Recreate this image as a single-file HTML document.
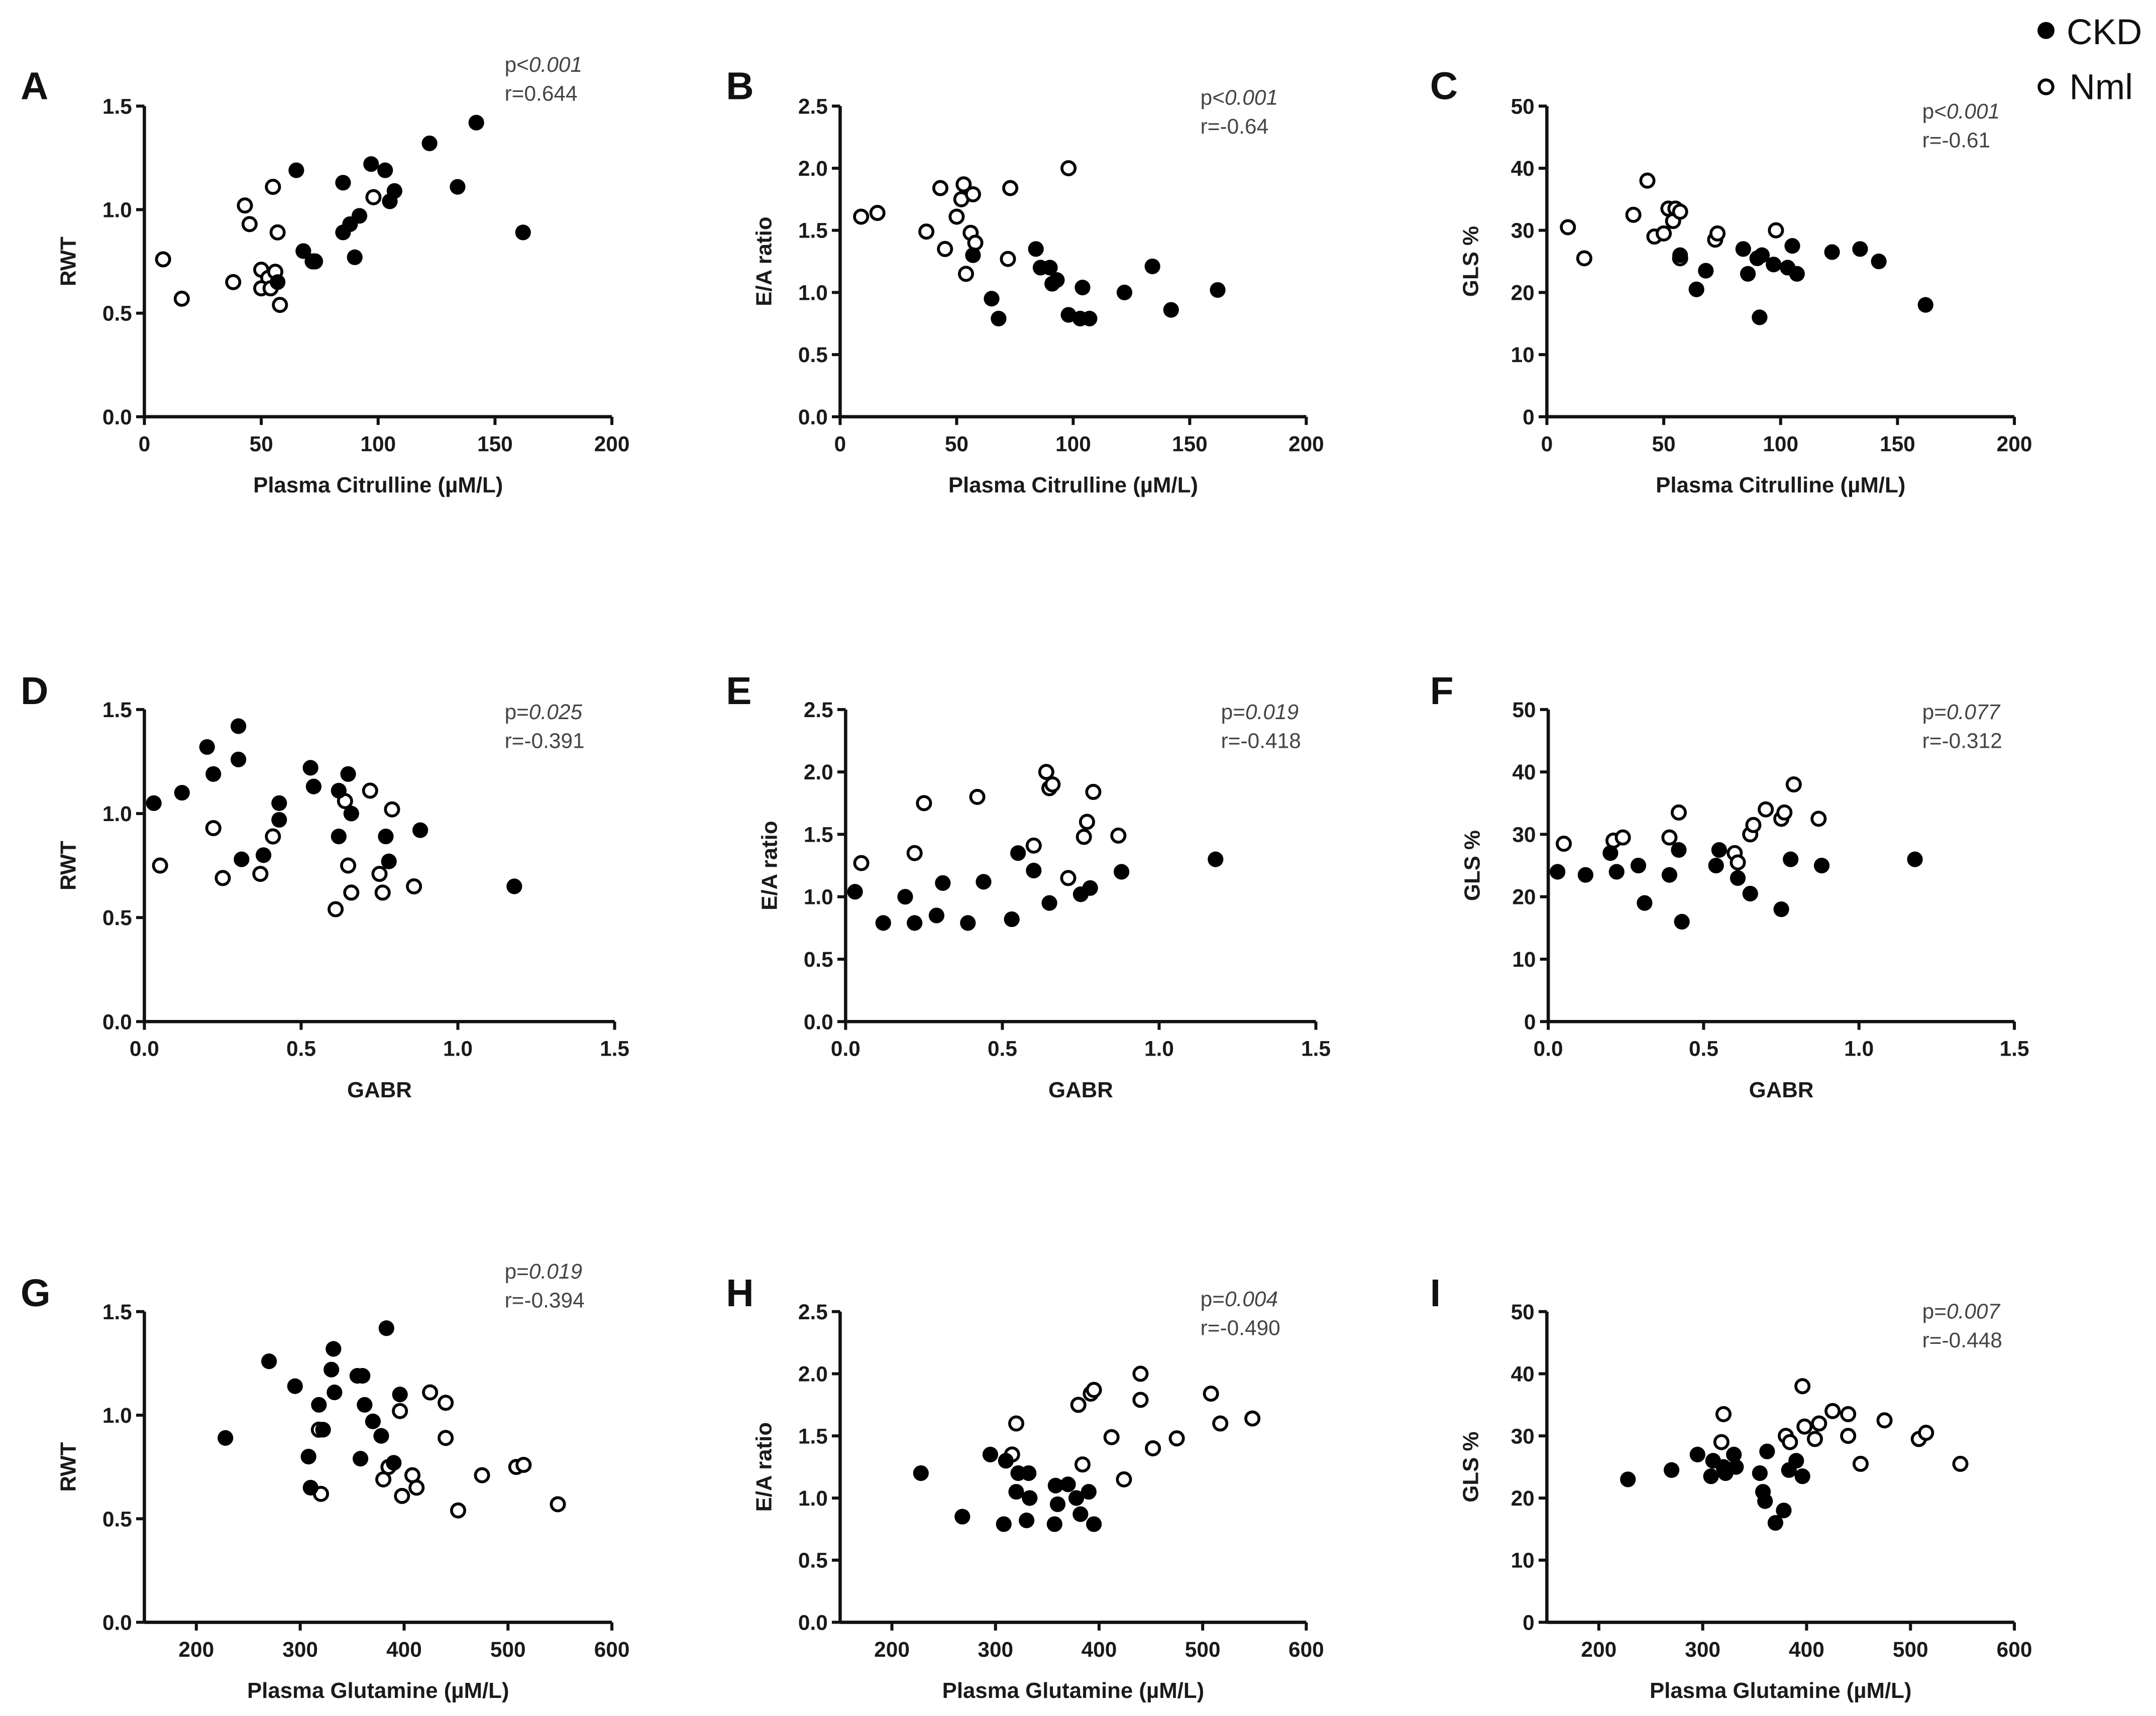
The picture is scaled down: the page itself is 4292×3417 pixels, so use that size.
<!DOCTYPE html>
<html><head><meta charset="utf-8"><style>
html,body{margin:0;padding:0;background:#fff;}
svg{display:block;}
text{font-family:"Liberation Sans",sans-serif;}
.tick{font-family:"Liberation Sans Narrow","Liberation Sans",sans-serif;font-weight:bold;font-size:15.5px;fill:#1a1a1a;}
.lab{font-weight:bold;font-size:16px;fill:#1a1a1a;}
.stat{font-size:15.5px;fill:#444;}
.letter{font-weight:bold;font-size:28px;fill:#111;}
</style></head><body>
<svg id="fig" width="4292" height="3417" viewBox="0 0 1568 1248" xmlns="http://www.w3.org/2000/svg">
<g>
<circle cx="1488" cy="22" r="6.2" fill="#000"/>
<text x="1503" y="32" font-size="26" fill="#111">CKD</text>
<circle cx="1488" cy="63" r="5" fill="none" stroke="#000" stroke-width="2.2"/>
<text x="1505" y="72" font-size="26" fill="#111">Nml</text>
</g>
</svg>
<script>
// Panel A
const aCkdX=[65,85,97,103,107,105,122,134,142,162,85,88,92,90,68,72,57];
const aCkdY=[1.19,1.13,1.22,1.19,1.09,1.04,1.32,1.11,1.42,0.89,0.89,0.93,0.97,0.77,0.80,0.75,0.65];
const aNmlX=[8,16,38,43,45,55,57,50,53,56,50,54,58,73,98,72];
const aNmlY=[0.76,0.57,0.65,1.02,0.93,1.11,0.89,0.71,0.67,0.70,0.62,0.62,0.54,0.75,1.06,0.75];
// Panel B
const bCkdX=[57,84,86,90,93,91,65,68,98,104,103,107,122,134,142,162];
const bCkdY=[1.30,1.35,1.2,1.2,1.1,1.07,0.95,0.79,0.82,1.04,0.79,0.79,1.0,1.21,0.86,1.02];
const bNmlX=[9,16,37,43,45,52,53,50,57,56,58,54,73,72,98];
const bNmlY=[1.61,1.64,1.49,1.84,1.35,1.75,1.87,1.61,1.79,1.48,1.40,1.15,1.84,1.27,2.0];
// Panel C
const cCkdX=[57,64,68,84,86,90,92,91,97,103,105,107,122,134,142,162];
const cCkdY=[26,20.5,23.5,27,23,25.5,26,16,24.5,24,27.5,23,26.5,27,25,18];
const cNmlX=[9,16,37,43,46,50,52,54,55,57,57,72,73,98];
const cNmlY=[30.5,25.5,32.5,38,29,29.5,33.5,31.5,33.5,33,25.5,28.5,29.5,30];
// Panel D
const dCkdX=[0.03,0.12,0.2,0.22,0.3,0.3,0.31,0.38,0.43,0.43,0.53,0.54,0.62,0.62,0.65,0.66,0.77,0.78,0.88,1.18];
const dCkdY=[1.05,1.10,1.32,1.19,1.42,1.26,0.78,0.80,1.05,0.97,1.22,1.13,1.11,0.89,1.19,1.00,0.89,0.77,0.92,0.65];
const dNmlX=[0.05,0.22,0.25,0.37,0.41,0.61,0.64,0.65,0.66,0.72,0.75,0.76,0.79,0.86];
const dNmlY=[0.75,0.93,0.69,0.71,0.89,0.54,1.06,0.75,0.62,1.11,0.71,0.62,1.02,0.65];
// Panel E
const eCkdX=[0.03,0.12,0.19,0.22,0.29,0.31,0.39,0.44,0.53,0.55,0.6,0.65,0.75,0.78,0.88,1.18];
const eCkdY=[1.04,0.79,1.0,0.79,0.85,1.11,0.79,1.12,0.82,1.35,1.21,0.95,1.02,1.07,1.2,1.3];
const eNmlX=[0.05,0.22,0.25,0.42,0.6,0.64,0.65,0.66,0.71,0.76,0.77,0.79,0.87];
const eNmlY=[1.27,1.35,1.75,1.8,1.41,2.0,1.87,1.9,1.15,1.48,1.6,1.84,1.49];
// Panel F
const fCkdX=[0.03,0.12,0.2,0.22,0.29,0.31,0.39,0.42,0.43,0.54,0.55,0.61,0.65,0.75,0.78,0.88,1.18];
const fCkdY=[24,23.5,27,24,25,19,23.5,27.5,16,25,27.5,23,20.5,18,26,25,26];
const fNmlX=[0.05,0.21,0.24,0.39,0.42,0.6,0.61,0.65,0.66,0.7,0.75,0.76,0.79,0.87];
const fNmlY=[28.5,29,29.5,29.5,33.5,27,25.5,30,31.5,34,32.5,33.5,38,32.5];
// Panel G
const gCkdX=[228,270,295,308,310,318,322,330,332,333,355,358,360,362,370,378,383,390,396];
const gCkdY=[0.89,1.26,1.14,0.80,0.65,1.05,0.93,1.22,1.32,1.11,1.19,0.79,1.19,1.05,0.97,0.90,1.42,0.77,1.10];
const gNmlX=[318,320,380,385,396,398,408,412,425,440,440,452,475,508,515,548];
const gNmlY=[0.93,0.62,0.69,0.75,1.02,0.61,0.71,0.65,1.11,1.06,0.89,0.54,0.71,0.75,0.76,0.57];
// Panel H
const hCkdX=[228,268,295,308,310,320,322,330,333,332,357,358,360,370,378,382,390,395];
const hCkdY=[1.2,0.85,1.35,0.79,1.3,1.05,1.2,0.82,1.0,1.2,0.79,1.1,0.95,1.11,1.0,0.87,1.05,0.79];
const hNmlX=[316,320,380,384,392,395,412,424,440,440,452,475,508,517,548];
const hNmlY=[1.35,1.6,1.75,1.27,1.84,1.87,1.49,1.15,2.0,1.79,1.40,1.48,1.84,1.60,1.64];
// Panel I
const iCkdX=[228,270,295,308,310,320,322,330,332,355,358,360,362,370,378,383,390,396];
const iCkdY=[23,24.5,27,23.5,26,25,24,27,25,24,21,19.5,27.5,16,18,24.5,26,23.5];
const iNmlX=[318,320,380,384,396,398,408,412,425,440,440,452,475,508,515,548];
const iNmlY=[29,33.5,30,29,38,31.5,29.5,32,34,33.5,30,25.5,32.5,29.5,30.5,25.5];

const ticksCit=[0,50,100,150,200];
const ticksGabr=[0,0.5,1.0,1.5];
const ticksGlu=[200,300,400,500,600];
const ticksRwt=[0,0.5,1.0,1.5];
const ticksEa=[0,0.5,1.0,1.5,2.0,2.5];
const ticksGls=[0,10,20,30,40,50];
const labRwt=["0.0","0.5","1.0","1.5"];
const labEa=["0.0","0.5","1.0","1.5","2.0","2.5"];
const labGabr=["0.0","0.5","1.0","1.5"];
const pVals=["<","<","<","=","=","=","=","=","="];
const pNums=["0.001","0.001","0.001","0.025","0.019","0.077","0.019","0.004","0.007"];
const rVals=["r=0.644","r=-0.64","r=-0.61","r=-0.391","r=-0.418","r=-0.312","r=-0.394","r=-0.490","r=-0.448"];

const NS="http://www.w3.org/2000/svg";
const svg=document.getElementById('fig');
function mk(tag,attrs,parent){const e=document.createElementNS(NS,tag);for(const k in attrs)e.setAttribute(k,attrs[k]);(parent||svg).appendChild(e);return e;}

const panels=[
 {id:'a',L:'A',x0:105,x1:445,yb:303,yt:77,xmin:0,xmax:200,xt:ticksCit,xl:ticksCit.map(String),ymax:1.5,yt2:ticksRwt,yl:labRwt,ylab:'RWT',xlab:'Plasma Citrulline (µM/L)',ck:[aCkdX,aCkdY],nm:[aNmlX,aNmlY],lx:15,ly:72,sx:367,sy:52},
 {id:'b',L:'B',x0:611,x1:950,yb:303,yt:77,xmin:0,xmax:200,xt:ticksCit,xl:ticksCit.map(String),ymax:2.5,yt2:ticksEa,yl:labEa,ylab:'E/A ratio',xlab:'Plasma Citrulline (µM/L)',ck:[bCkdX,bCkdY],nm:[bNmlX,bNmlY],lx:528,ly:72,sx:873,sy:76},
 {id:'c',L:'C',x0:1125,x1:1465,yb:303,yt:77,xmin:0,xmax:200,xt:ticksCit,xl:ticksCit.map(String),ymax:50,yt2:ticksGls,yl:ticksGls.map(String),ylab:'GLS %',xlab:'Plasma Citrulline (µM/L)',ck:[cCkdX,cCkdY],nm:[cNmlX,cNmlY],lx:1040,ly:72,sx:1398,sy:86},
 {id:'d',L:'D',x0:105,x1:447,yb:743,yt:516,xmin:0,xmax:1.5,xt:ticksGabr,xl:labGabr,ymax:1.5,yt2:ticksRwt,yl:labRwt,ylab:'RWT',xlab:'GABR',ck:[dCkdX,dCkdY],nm:[dNmlX,dNmlY],lx:15,ly:512,sx:367,sy:523},
 {id:'e',L:'E',x0:615,x1:957,yb:743,yt:516,xmin:0,xmax:1.5,xt:ticksGabr,xl:labGabr,ymax:2.5,yt2:ticksEa,yl:labEa,ylab:'E/A ratio',xlab:'GABR',ck:[eCkdX,eCkdY],nm:[eNmlX,eNmlY],lx:528,ly:512,sx:888,sy:523},
 {id:'f',L:'F',x0:1126,x1:1465,yb:743,yt:516,xmin:0,xmax:1.5,xt:ticksGabr,xl:labGabr,ymax:50,yt2:ticksGls,yl:ticksGls.map(String),ylab:'GLS %',xlab:'GABR',ck:[fCkdX,fCkdY],nm:[fNmlX,fNmlY],lx:1040,ly:512,sx:1398,sy:523},
 {id:'g',L:'G',x0:105,x1:445,yb:1180,yt:954,xmin:150,xmax:600,xt:ticksGlu,xl:ticksGlu.map(String),ymax:1.5,yt2:ticksRwt,yl:labRwt,ylab:'RWT',xlab:'Plasma Glutamine (µM/L)',ck:[gCkdX,gCkdY],nm:[gNmlX,gNmlY],lx:15,ly:950,sx:367,sy:930},
 {id:'h',L:'H',x0:611,x1:950,yb:1180,yt:954,xmin:150,xmax:600,xt:ticksGlu,xl:ticksGlu.map(String),ymax:2.5,yt2:ticksEa,yl:labEa,ylab:'E/A ratio',xlab:'Plasma Glutamine (µM/L)',ck:[hCkdX,hCkdY],nm:[hNmlX,hNmlY],lx:528,ly:950,sx:873,sy:950},
 {id:'i',L:'I',x0:1125,x1:1465,yb:1180,yt:954,xmin:150,xmax:600,xt:ticksGlu,xl:ticksGlu.map(String),ymax:50,yt2:ticksGls,yl:ticksGls.map(String),ylab:'GLS %',xlab:'Plasma Glutamine (µM/L)',ck:[iCkdX,iCkdY],nm:[iNmlX,iNmlY],lx:1040,ly:950,sx:1398,sy:959}
];

panels.forEach((p,pi)=>{
 const g=mk('g',{});
 
 
 const X=v=>p.x0+(v-p.xmin)/(p.xmax-p.xmin)*(p.x1-p.x0);
 const Y=v=>p.yb-v/p.ymax*(p.yb-p.yt);
 const lt=mk('text',{x:p.lx,y:p.ly,class:'letter'},g);lt.textContent=p.L;
 
 
 const xa=mk('line',{x1:p.x0,y1:p.yb,x2:p.x1,y2:p.yb,stroke:'#111','stroke-width':2.4},g);
 
 
 const ya=mk('line',{x1:p.x0,y1:p.yb,x2:p.x0,y2:p.yt,stroke:'#111','stroke-width':2.4},g);
 
 
 p.xt.forEach((t,k)=>{
  const x=X(t);
  mk('line',{x1:x,y1:p.yb,x2:x,y2:p.yb+6,stroke:'#111','stroke-width':2.2},g);
  const tx=mk('text',{x:x,y:p.yb+25,class:'tick','text-anchor':'middle'},g);tx.textContent=p.xl[k];
  
  
 });
 p.yt2.forEach((t,k)=>{
  const y=Y(t);
  mk('line',{x1:p.x0-6,y1:y,x2:p.x0,y2:y,stroke:'#111','stroke-width':2.2},g);
  const tx=mk('text',{x:p.x0-9,y:y+5.5,class:'tick','text-anchor':'end'},g);tx.textContent=p.yl[k];
  
  
 });
 const xl=mk('text',{x:(p.x0+p.x1)/2,y:p.yb+55,class:'lab','text-anchor':'middle'},g);xl.textContent=p.xlab;
 
 
 const cy=(p.yb+p.yt)/2, cx=p.x0-50;
 const yl=mk('text',{x:cx,y:cy,class:'lab','text-anchor':'middle',transform:`rotate(-90 ${cx} ${cy})`},g);yl.textContent=p.ylab;
 
 
 const s1=mk('text',{x:p.sx,y:p.sy,class:'stat'},g);
 s1.innerHTML='p'+(pVals[pi]==='<'?'&lt;':'=')+'<tspan font-style="italic">'+pNums[pi]+'</tspan>';
 
 
 const s2=mk('text',{x:p.sx,y:p.sy+21,class:'stat'},g);s2.textContent=rVals[pi];
 
 
 p.nm[0].forEach((v,k)=>{
  const c=mk('circle',{cx:X(v),cy:Y(p.nm[1][k]),r:4.8,fill:'#fff',stroke:'#000','stroke-width':2.1},g);
  
  
 });
 p.ck[0].forEach((v,k)=>{
  const c=mk('circle',{cx:X(v),cy:Y(p.ck[1][k]),r:5.7,fill:'#000'},g);
  
  
 });
});
</script>
</body></html>
